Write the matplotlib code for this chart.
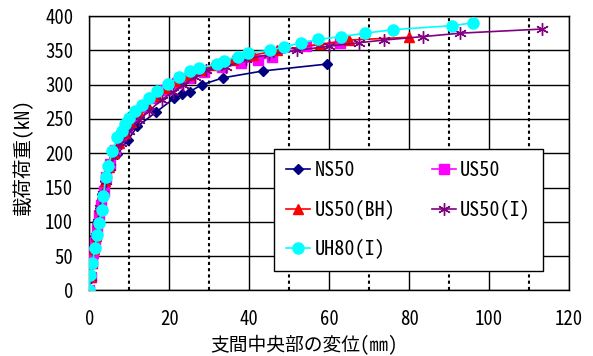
import matplotlib
matplotlib.use('Agg')
import matplotlib.pyplot as plt
from matplotlib.ticker import MultipleLocator

plt.rcParams['font.family'] = ['Noto Sans Mono CJK JP', 'Noto Sans CJK JP', 'DejaVu Sans']

# Load-deflection data
ns50_x = [0, 0.3, 0.6, 1.0, 1.5, 2.0, 2.6, 3.2, 4.0, 5.0, 7.0, 9.75, 12.0, 16.7, 21.2, 23.3, 25.2, 28.2, 33.5, 43.5, 59.5]
ns50_y = [0, 20, 40, 60, 80, 100, 120, 140, 160, 180, 199, 220, 239, 260, 280, 286, 290, 300, 310, 320, 330]

us50_x = [0, 0.3, 0.7, 1.0, 1.4, 1.9, 2.4, 3.0, 3.6, 4.3, 5.2, 6.5, 8.0, 9.5, 11.5, 13.5, 16.0, 19.0, 22.0, 25.0, 28.7, 33.1, 38.0, 42.3, 45.7, 54.2, 62.7]
us50_y = [0, 20, 40, 55, 70, 90, 110, 125, 145, 165, 185, 205, 225, 240, 255, 268, 280, 292, 302, 310, 318, 325, 331, 336, 341, 356, 361]

us50bh_x = [0, 0.3, 0.7, 1.1, 1.6, 2.1, 2.7, 3.3, 4.0, 5.0, 6.2, 7.5, 9.0, 10.5, 12.5, 14.5, 17.0, 19.5, 22.0, 25.0, 28.0, 31.0, 36.0, 41.0, 47.0, 57.8, 65.0, 80.0]
us50bh_y = [0, 20, 40, 60, 80, 100, 120, 140, 160, 180, 200, 215, 230, 245, 260, 272, 284, 295, 305, 314, 322, 328, 336, 343, 350, 359, 365, 369]

us50i_x = [0, 0.3, 0.7, 1.1, 1.6, 2.2, 2.8, 3.5, 4.3, 5.3, 6.5, 8.0, 10.0, 12.5, 15.0, 18.1, 21.0, 23.5, 26.5, 29.3, 34.1, 39.2, 45.0, 52.0, 60.0, 67.4, 73.75, 83.5, 92.8, 113.2]
us50i_y = [0, 20, 40, 60, 80, 100, 120, 140, 160, 180, 200, 215, 232, 248, 262, 278, 290, 300, 311, 321, 325, 337, 344, 350, 356, 361, 365, 370, 375, 381]

uh80i_x = [0, 0.2, 0.75, 1.4, 1.85, 2.4, 3.1, 3.5, 4.1, 4.75, 5.75, 7.0, 8.1, 9.0, 10.0, 11.4, 13.1, 14.9, 17.0, 19.7, 22.5, 25.3, 27.5, 32.0, 33.8, 37.1, 39.8, 45.3, 48.7, 53.0, 57.3, 63.0, 69.0, 75.9, 90.8, 95.9]
uh80i_y = [0, 22, 40, 62, 81, 98, 117, 137, 165, 181, 203, 223, 233, 243, 251, 261, 271, 281, 291, 301, 311, 320, 324, 330, 335, 341, 346, 350, 355, 361, 366, 370, 375, 380, 386, 390]

x_ticks = [0, 20, 40, 60, 80, 100, 120]
y_ticks = [0, 50, 100, 150, 200, 250, 300, 350, 400]

fig = plt.figure(figsize=(5.93, 3.56), dpi=100)
ax = fig.add_axes([0.1506, 0.184, 0.8089, 0.771])

lw = 1.2
h_ns, = ax.plot(ns50_x, ns50_y, color='#000080', marker='D', markersize=5, lw=lw, label='NS50', zorder=3)
h_us, = ax.plot(us50_x, us50_y, color='#ff00ff', marker='s', markersize=7, lw=lw, label='US50', zorder=4)
h_bh, = ax.plot(us50bh_x, us50bh_y, color='#ff0000', marker='^', markersize=7, lw=lw, label='US50(BH)', zorder=5)
h_ui, = ax.plot(us50i_x, us50i_y, color='#800080', marker=(6, 2, 0), markersize=9, lw=lw, label='US50(I)', zorder=6)
h_uh, = ax.plot(uh80i_x, uh80i_y, color='#00ffff', marker='o', markersize=8, lw=lw, label='UH80(I)', zorder=7)

ax.set_xlim(0, 120)
ax.set_ylim(0, 400)
ax.set_xticks(x_ticks)
ax.set_yticks(y_ticks)
ax.xaxis.set_minor_locator(MultipleLocator(10))
ax.tick_params(which='both', length=0, labelsize=13.5)
ax.tick_params(axis='x', pad=14)
ax.tick_params(axis='y', pad=11.5)

# Solid grid on major ticks, dotted on minor x
ax.grid(True, which='major', color='black', linestyle='-', linewidth=1.0)
ax.grid(True, which='minor', axis='x', color='black', linestyle=(0, (1.5, 1.5)), linewidth=1.5)
ax.set_axisbelow(True)
for s in ax.spines.values():
    s.set_color('black')
    s.set_linewidth(1.0)

ax.set_xlabel('支間中央部の変位(㎜)', fontsize=13.5)
ax.xaxis.set_label_coords(0.4476, -0.162)
ax.set_ylabel('載荷荷重(kN)', fontsize=14)
ax.yaxis.set_label_coords(-0.117, 0.49)

# row-wise order like the original legend
handles = [h_ns, h_bh, h_uh, h_us, h_ui]
leg = ax.legend(handles=handles, labels=[h.get_label() for h in handles],
                loc='upper left', bbox_to_anchor=(0.385, 0.093, 0.561, 0.421), mode='expand',
                borderaxespad=0, ncol=2, fontsize=14.5, frameon=True, fancybox=False, edgecolor='black',
                handlelength=1.2, handletextpad=0.2, labelspacing=0.95, borderpad=0.6)
leg.get_frame().set_linewidth(1.0)
leg.get_frame().set_alpha(1)

fig.savefig('out.png', dpi=100)
